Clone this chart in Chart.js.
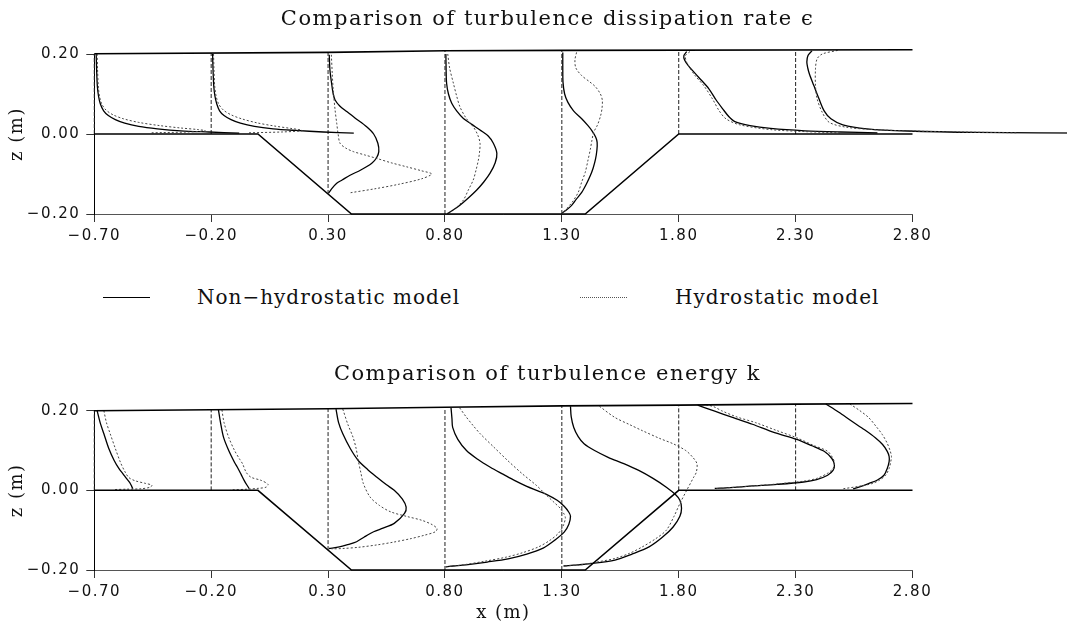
<!DOCTYPE html>
<html>
<head>
<meta charset="utf-8">
<script src="https://cdn.jsdelivr.net/npm/chart.js@4.4.1/dist/chart.umd.min.js"></script>
<style>
  html, body { margin: 0; padding: 0; background: #fff; }
  body { position: relative; width: 1067px; height: 626px; overflow: hidden; }
  canvas { position: absolute; left: 0; }
  #epsChart { top: 0; }
  #kChart { top: 350px; }
  .key { position: absolute; top: 297px; width: 47px; height: 0; }
  .key.solid { border-top: 1.3px solid #000; }
  .key.dotted { border-top: 1px dotted #555; }
  .lbl { position: absolute; top: 285px; font: 20px 'DejaVu Serif'; line-height: 24px; letter-spacing: 1px; color: #111; white-space: nowrap; }
</style>
</head>
<body>
<canvas id="epsChart" width="1095" height="250"></canvas>
<span class="key solid" style="left:103px"></span>
<span class="lbl" style="left:197px">Non−hydrostatic model</span>
<span class="key dotted" style="left:580px"></span>
<span class="lbl" style="left:675px">Hydrostatic model</span>
<canvas id="kChart" width="1095" height="276"></canvas>
<script>
// measuring stations (x, m) and axis ticks
const STATIONS = [-0.70, -0.20, 0.30, 0.80, 1.30, 1.80, 2.30];
const X_TICKS = [-0.70, -0.20, 0.30, 0.80, 1.30, 1.80, 2.30, 2.80];
const Y_TICKS = [-0.20, 0.00, 0.20];

// bed (same for both panels)
const BED_X = [-0.70, 0.00, 0.40, 1.40, 1.80, 2.80];
const BED_Z = [0.00, 0.00, -0.20, -0.20, 0.00, 0.00];

// vertical reference line at each station: foot on the bed, head at the surface
const BASE_FOOT = [0.00, 0.00, -0.15, -0.20, -0.20, 0.00, 0.00];
const HEAD_EPS = [0.2005, 0.202, 0.204, 0.208, 0.209, 0.2095, 0.210];
const HEAD_K = [0.200, 0.2025, 0.205, 0.2085, 0.212, 0.214, 0.2165];

// free surface
const SURF_EPS_X = [-0.70, 0.30, 0.80, 1.30, 2.80];
const SURF_EPS_Z = [0.2005, 0.204, 0.208, 0.209, 0.2105];
const SURF_K_X = [-0.70, 0.30, 0.80, 1.30, 1.80, 2.30, 2.80];
const SURF_K_Z = [0.200, 0.205, 0.2085, 0.212, 0.214, 0.2165, 0.218];

// profiles as [offset from station, z]; NH = non-hydrostatic, H = hydrostatic
// --- dissipation rate eps ---
const EPS_NH_M070 = [[0.008,0.200],[0.010,0.160],[0.013,0.120],[0.018,0.095],[0.026,0.075],[0.040,0.058],[0.060,0.046],[0.090,0.036],[0.130,0.027],[0.190,0.019],[0.270,0.013],[0.370,0.008],[0.490,0.005],[0.620,0.002]];
const EPS_H_M070 = [[0.012,0.200],[0.014,0.160],[0.017,0.120],[0.022,0.095],[0.032,0.075],[0.050,0.060],[0.080,0.048],[0.125,0.038],[0.190,0.029],[0.280,0.021],[0.370,0.015],[0.445,0.011],[0.475,0.008],[0.400,0.005],[0.240,0.003]];
const EPS_NH_M020 = [[0.006,0.200],[0.008,0.160],[0.011,0.120],[0.016,0.095],[0.024,0.075],[0.036,0.058],[0.055,0.046],[0.085,0.036],[0.125,0.027],[0.185,0.019],[0.265,0.013],[0.360,0.009],[0.480,0.005],[0.610,0.002]];
const EPS_H_M020 = [[0.010,0.200],[0.012,0.160],[0.015,0.120],[0.021,0.095],[0.032,0.075],[0.052,0.060],[0.085,0.048],[0.130,0.038],[0.195,0.028],[0.270,0.020],[0.340,0.014],[0.385,0.010],[0.390,0.008],[0.300,0.005],[0.160,0.003]];
const EPS_NH_030 = [[0.005,0.198],[0.008,0.160],[0.015,0.127],[0.022,0.100],[0.030,0.085],[0.050,0.070],[0.080,0.056],[0.115,0.040],[0.165,0.018],[0.195,0.000],[0.213,-0.023],[0.217,-0.044],[0.207,-0.060],[0.187,-0.073],[0.140,-0.090],[0.094,-0.103],[0.060,-0.115],[0.037,-0.123],[0.015,-0.137],[0.002,-0.148]];
const EPS_H_030 = [[0.014,0.198],[0.018,0.150],[0.022,0.110],[0.030,0.060],[0.037,0.027],[0.043,0.000],[0.051,-0.023],[0.075,-0.035],[0.108,-0.044],[0.155,-0.052],[0.208,-0.061],[0.270,-0.072],[0.336,-0.082],[0.400,-0.092],[0.443,-0.100],[0.400,-0.112],[0.300,-0.126],[0.200,-0.137],[0.094,-0.147]];
const EPS_NH_080 = [[0.004,0.200],[0.005,0.160],[0.007,0.127],[0.015,0.100],[0.029,0.077],[0.050,0.058],[0.079,0.039],[0.115,0.024],[0.150,0.010],[0.185,-0.005],[0.207,-0.023],[0.222,-0.048],[0.215,-0.072],[0.193,-0.098],[0.166,-0.120],[0.136,-0.140],[0.100,-0.160],[0.064,-0.178],[0.030,-0.192],[0.010,-0.199]];
const EPS_H_080 = [[0.012,0.200],[0.020,0.165],[0.036,0.127],[0.050,0.095],[0.064,0.068],[0.090,0.040],[0.121,0.018],[0.140,-0.002],[0.150,-0.023],[0.148,-0.045],[0.143,-0.065],[0.133,-0.090],[0.121,-0.115],[0.100,-0.140],[0.079,-0.165],[0.050,-0.183],[0.030,-0.193],[0.010,-0.199]];
const EPS_NH_130 = [[0.004,0.204],[0.004,0.170],[0.005,0.129],[0.012,0.100],[0.026,0.079],[0.050,0.058],[0.085,0.038],[0.110,0.022],[0.129,0.008],[0.145,-0.008],[0.151,-0.021],[0.150,-0.040],[0.144,-0.063],[0.134,-0.085],[0.122,-0.104],[0.105,-0.125],[0.085,-0.146],[0.062,-0.163],[0.041,-0.179],[0.015,-0.192],[0.002,-0.197]];
const EPS_H_130 = [[0.063,0.204],[0.056,0.185],[0.060,0.165],[0.085,0.146],[0.120,0.130],[0.144,0.118],[0.165,0.100],[0.173,0.085],[0.172,0.065],[0.166,0.046],[0.152,0.022],[0.136,0.004],[0.128,-0.018],[0.122,-0.038],[0.112,-0.065],[0.100,-0.096],[0.085,-0.120],[0.070,-0.146],[0.045,-0.170],[0.026,-0.183],[0.008,-0.195]];
const EPS_NH_180 = [[0.034,0.206],[0.022,0.196],[0.025,0.185],[0.041,0.171],[0.085,0.142],[0.129,0.113],[0.160,0.085],[0.188,0.063],[0.215,0.043],[0.240,0.031],[0.305,0.021],[0.393,0.014],[0.540,0.008],[0.690,0.005],[0.850,0.003]];
const EPS_H_180 = [[0.048,0.206],[0.029,0.196],[0.034,0.179],[0.070,0.146],[0.107,0.121],[0.144,0.088],[0.173,0.058],[0.202,0.038],[0.261,0.023],[0.393,0.011],[0.540,0.006],[0.690,0.003]];
const EPS_NH_230 = [[0.070,0.208],[0.053,0.196],[0.048,0.180],[0.052,0.165],[0.059,0.150],[0.078,0.121],[0.100,0.088],[0.122,0.058],[0.151,0.038],[0.202,0.023],[0.305,0.013],[0.480,0.0075],[0.775,0.004],[1.300,0.002]];
const EPS_H_230 = [[0.180,0.209],[0.114,0.200],[0.092,0.188],[0.085,0.163],[0.085,0.121],[0.092,0.088],[0.114,0.054],[0.144,0.029],[0.217,0.017],[0.334,0.011],[0.503,0.0075],[0.700,0.005],[0.950,0.003]];

// --- turbulence energy k ---
const K_NH_M070 = [[0.012,0.200],[0.025,0.170],[0.041,0.142],[0.062,0.105],[0.085,0.075],[0.105,0.055],[0.122,0.042],[0.140,0.028],[0.151,0.020],[0.160,0.010],[0.165,0.004]];
const K_H_M070 = [[0.041,0.200],[0.052,0.170],[0.068,0.142],[0.090,0.105],[0.112,0.070],[0.130,0.048],[0.148,0.032],[0.175,0.024],[0.215,0.018],[0.246,0.013],[0.240,0.008],[0.200,0.004],[0.140,0.003],[0.085,0.002]];
const K_NH_M020 = [[0.031,0.202],[0.040,0.170],[0.053,0.133],[0.075,0.100],[0.100,0.070],[0.112,0.058],[0.128,0.040],[0.141,0.025],[0.152,0.014],[0.163,0.004]];
const K_H_M020 = [[0.046,0.202],[0.055,0.170],[0.075,0.133],[0.100,0.100],[0.122,0.078],[0.134,0.067],[0.150,0.045],[0.170,0.033],[0.214,0.025],[0.243,0.015],[0.235,0.008],[0.200,0.005],[0.156,0.003],[0.083,0.001]];
const K_NH_030 = [[0.034,0.204],[0.045,0.170],[0.063,0.142],[0.095,0.105],[0.129,0.075],[0.170,0.052],[0.209,0.033],[0.250,0.014],[0.283,0.000],[0.318,-0.022],[0.334,-0.042],[0.327,-0.058],[0.283,-0.083],[0.235,-0.095],[0.195,-0.104],[0.155,-0.117],[0.122,-0.129],[0.080,-0.137],[0.048,-0.142],[0.004,-0.146]];
const K_H_030 = [[0.063,0.204],[0.085,0.165],[0.107,0.133],[0.120,0.105],[0.129,0.075],[0.140,0.045],[0.151,0.017],[0.180,-0.017],[0.220,-0.038],[0.268,-0.054],[0.340,-0.066],[0.400,-0.075],[0.445,-0.086],[0.466,-0.096],[0.459,-0.104],[0.410,-0.113],[0.356,-0.121],[0.280,-0.130],[0.209,-0.137],[0.130,-0.143],[0.063,-0.146],[0.015,-0.147]];
const K_NH_080 = [[0.026,0.207],[0.030,0.180],[0.033,0.158],[0.055,0.128],[0.092,0.100],[0.140,0.078],[0.194,0.058],[0.250,0.040],[0.297,0.025],[0.350,0.010],[0.392,0.000],[0.434,-0.010],[0.480,-0.025],[0.510,-0.040],[0.530,-0.055],[0.537,-0.065],[0.530,-0.085],[0.510,-0.105],[0.470,-0.125],[0.420,-0.145],[0.350,-0.160],[0.270,-0.172],[0.181,-0.180],[0.090,-0.187],[0.035,-0.190],[0.003,-0.192]];
const K_H_080 = [[0.063,0.207],[0.090,0.185],[0.120,0.163],[0.151,0.142],[0.210,0.108],[0.268,0.075],[0.330,0.042],[0.392,0.012],[0.434,-0.012],[0.470,-0.032],[0.493,-0.045],[0.510,-0.060],[0.515,-0.070],[0.505,-0.090],[0.485,-0.108],[0.450,-0.125],[0.400,-0.142],[0.330,-0.157],[0.260,-0.168],[0.170,-0.178],[0.078,-0.187],[0.004,-0.192]];
const K_NH_130 = [[0.037,0.211],[0.040,0.185],[0.051,0.158],[0.070,0.135],[0.095,0.117],[0.140,0.100],[0.198,0.083],[0.265,0.067],[0.329,0.050],[0.390,0.030],[0.447,0.008],[0.485,-0.010],[0.505,-0.025],[0.512,-0.045],[0.505,-0.065],[0.476,-0.092],[0.430,-0.118],[0.373,-0.142],[0.300,-0.160],[0.227,-0.175],[0.124,-0.184],[0.050,-0.188],[0.007,-0.190]];
const K_H_130 = [[0.161,0.211],[0.227,0.183],[0.290,0.165],[0.344,0.150],[0.420,0.130],[0.476,0.117],[0.530,0.100],[0.560,0.083],[0.578,0.067],[0.575,0.045],[0.564,0.033],[0.534,0.000],[0.505,-0.033],[0.480,-0.065],[0.447,-0.100],[0.400,-0.122],[0.344,-0.142],[0.290,-0.158],[0.227,-0.171],[0.150,-0.180],[0.080,-0.187],[0.007,-0.190]];
const K_NH_180 = [[0.081,0.214],[0.110,0.208],[0.154,0.199],[0.230,0.183],[0.315,0.166],[0.410,0.145],[0.505,0.128],[0.570,0.112],[0.622,0.098],[0.655,0.080],[0.666,0.064],[0.660,0.050],[0.637,0.038],[0.590,0.027],[0.534,0.021],[0.420,0.015],[0.315,0.011],[0.220,0.007],[0.154,0.005]];
const K_H_180 = [[0.117,0.215],[0.150,0.210],[0.183,0.200],[0.250,0.184],[0.329,0.170],[0.420,0.150],[0.505,0.132],[0.580,0.112],[0.637,0.098],[0.660,0.080],[0.666,0.068],[0.660,0.055],[0.637,0.043],[0.590,0.030],[0.534,0.023],[0.420,0.016],[0.315,0.011],[0.200,0.006],[0.154,0.004]];
const K_NH_230 = [[0.129,0.217],[0.185,0.196],[0.239,0.174],[0.295,0.152],[0.341,0.132],[0.372,0.115],[0.392,0.098],[0.400,0.085],[0.400,0.072],[0.392,0.055],[0.378,0.038],[0.350,0.026],[0.312,0.017],[0.280,0.010],[0.246,0.004]];
const K_H_230 = [[0.232,0.217],[0.275,0.200],[0.312,0.183],[0.345,0.160],[0.371,0.140],[0.392,0.118],[0.405,0.098],[0.410,0.085],[0.407,0.072],[0.400,0.055],[0.385,0.038],[0.360,0.026],[0.327,0.017],[0.270,0.010],[0.203,0.004]];

const EPS_NH = [EPS_NH_M070, EPS_NH_M020, EPS_NH_030, EPS_NH_080, EPS_NH_130, EPS_NH_180, EPS_NH_230];
const EPS_H = [EPS_H_M070, EPS_H_M020, EPS_H_030, EPS_H_080, EPS_H_130, EPS_H_180, EPS_H_230];
const K_NH = [K_NH_M070, K_NH_M020, K_NH_030, K_NH_080, K_NH_130, K_NH_180, K_NH_230];
const K_H = [K_H_M070, K_H_M020, K_H_030, K_H_080, K_H_130, K_H_180, K_H_230];

const TITLE_FONT = { family: 'DejaVu Serif', size: 21, weight: 'normal' };
const TICK_FONT = { family: 'DejaVu Sans', size: 15 };
const AXIS_FONT = { family: 'DejaVu Serif', size: 18 };

const zip = (xs, zs) => xs.map((x, i) => ({ x, y: zs[i] }));
const shift = (station, pairs) => pairs.map(p => ({ x: station + p[0], y: p[1] }));
const fmt = v => v.toFixed(2).replace('-', '\u2212');

// wider glyph spacing for axis text, like the typeset original
const spacing = {
    id: 'spacing',
    beforeDraw(chart) { chart.ctx.letterSpacing = '1.5px'; },
    beforeDatasetsDraw(chart) { chart.ctx.letterSpacing = '0px'; },
};

function panelDatasets(nh, h, head, surfX, surfZ) {
    const sets = [
        { data: zip(BED_X, BED_Z), borderColor: '#000', borderWidth: 1.5, tension: 0 },
        { data: zip(surfX, surfZ), borderColor: '#000', borderWidth: 1.6, tension: 0 },
    ];
    STATIONS.forEach((s, i) => {
        sets.push({ data: [{ x: s, y: BASE_FOOT[i] }, { x: s, y: head[i] }], borderColor: '#222', borderWidth: 1, borderDash: [4, 2], tension: 0 });
        sets.push({ data: shift(s, h[i]), borderColor: '#444', borderWidth: 1, borderDash: [2, 2] });
        sets.push({ data: shift(s, nh[i]), borderColor: '#000', borderWidth: 1.3 });
    });
    return sets.map(d => Object.assign({
        showLine: true, pointRadius: 0, tension: 0.3, clip: false, fill: false,
    }, d));
}

function makeChart(canvas, cfg) {
    return new Chart(canvas, {
        type: 'scatter',
        data: { datasets: panelDatasets(cfg.nh, cfg.h, cfg.head, cfg.surfX, cfg.surfZ) },
        plugins: [spacing],
        options: {
            responsive: false,
            animation: false,
            events: [],
            layout: { padding: 0 },
            elements: { line: { capBezierPoints: false } },
            plugins: {
                legend: { display: false },
                tooltip: { enabled: false },
                title: {
                    display: true,
                    text: cfg.title,
                    color: '#111',
                    font: TITLE_FONT,
                    padding: cfg.titlePad,
                },
            },
            scales: {
                x: {
                    type: 'linear',
                    min: -0.70,
                    max: 2.80,
                    afterBuildTicks: s => { s.ticks = X_TICKS.map(v => ({ value: v })); },
                    afterFit: s => { s.height = cfg.xHeight; },
                    ticks: { callback: fmt, font: TICK_FONT, color: '#111', padding: 5, maxRotation: 0, autoSkip: false },
                    grid: { drawOnChartArea: false, drawTicks: true, tickLength: 8, tickColor: '#333' },
                    border: { display: true, color: '#555', width: 1 },
                    title: cfg.xTitle
                        ? { display: true, text: cfg.xTitle, font: AXIS_FONT, color: '#111', padding: { top: 0, bottom: 2 } }
                        : { display: false },
                },
                y: {
                    type: 'linear',
                    min: -0.20,
                    max: 0.20,
                    afterBuildTicks: s => { s.ticks = Y_TICKS.map(v => ({ value: v })); },
                    afterFit: s => { s.width = 94.3; },
                    ticks: { callback: fmt, font: TICK_FONT, color: '#111', padding: 6 },
                    grid: { drawOnChartArea: false, drawTicks: true, tickLength: 8, tickColor: '#333' },
                    border: { display: true, color: '#000', width: 1 },
                    title: { display: true, text: 'z (m)', font: AXIS_FONT, color: '#111', padding: { top: 7, bottom: 0 } },
                },
                // empty right-hand box: keeps the plot at 2.80 while the title centres on the page
                yR: {
                    type: 'linear',
                    position: 'right',
                    ticks: { display: false },
                    grid: { display: false },
                    border: { display: false },
                    afterFit: s => { s.width = 182.5; },
                },
            },
        },
    });
}

makeChart(document.getElementById('epsChart'), {
    title: 'Comparison of turbulence dissipation rate \u03f5',
    titlePad: { top: 7.4, bottom: 21.4 },
    xHeight: 36,
    nh: EPS_NH, h: EPS_H, head: HEAD_EPS,
    surfX: SURF_EPS_X, surfZ: SURF_EPS_Z,
});

makeChart(document.getElementById('kChart'), {
    title: 'Comparison of turbulence energy k',
    titlePad: { top: 12.4, bottom: 23.1 },
    xHeight: 56,
    xTitle: 'x (m)',
    nh: K_NH, h: K_H, head: HEAD_K,
    surfX: SURF_K_X, surfZ: SURF_K_Z,
});
</script>
</body>
</html>
